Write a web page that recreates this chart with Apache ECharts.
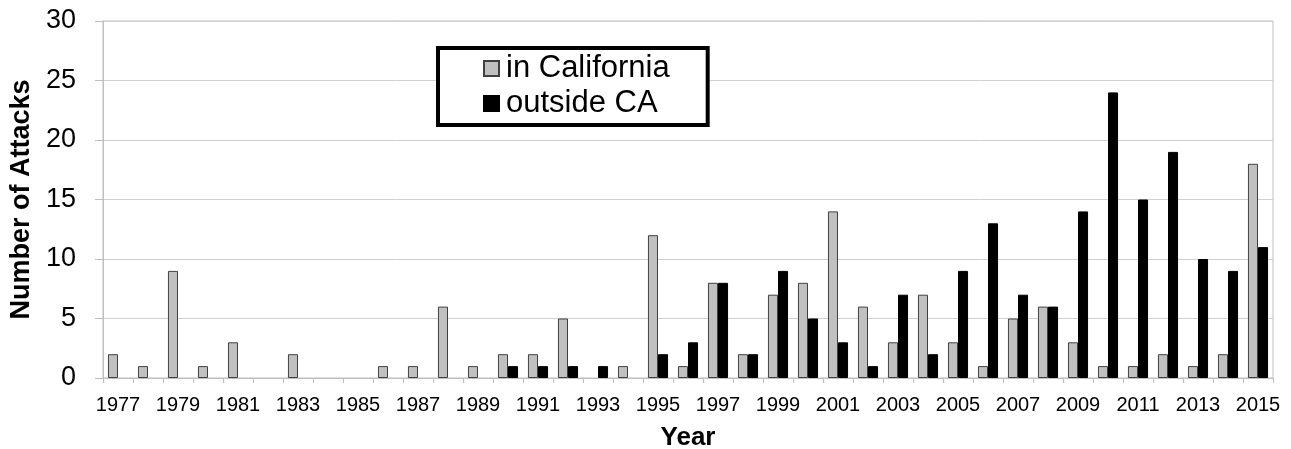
<!DOCTYPE html>
<html>
<head>
<meta charset="utf-8">
<script src="https://cdn.jsdelivr.net/npm/echarts@6/dist/echarts.min.js"></script>
<style>
  html, body { margin: 0; padding: 0; background: #fff; }
  #chart { width: 1291px; height: 449px; }
</style>
</head>
<body>
<div id="chart"></div>
<script>
// years on the x axis
var years = [];
for (var y = 1977; y <= 2015; y++) years.push(String(y));

// attacks per year
var inCalifornia = [2, 1, 9, 1, 3, 0, 2, 0, 0, 1, 1, 6, 1, 2, 2, 5, 0, 1, 12, 1, 8, 2, 7, 8, 14, 6, 3, 7, 3, 1, 5, 6, 3, 1, 1, 2, 1, 2, 18];
var outsideCA    = [0, 0, 0, 0, 0, 0, 0, 0, 0, 0, 0, 0, 0, 1, 1, 1, 1, 0, 2, 3, 8, 2, 9, 5, 3, 1, 7, 2, 9, 13, 7, 6, 14, 24, 15, 19, 10, 9, 11];

var font = 'Liberation Sans, Arial, sans-serif';

// zero years get no outline, like the original (no mark at all)
function bars(arr) {
  return arr.map(function (v) {
    return v === 0 ? { value: 0, itemStyle: { borderWidth: 0 } } : v;
  });
}

var chart = echarts.init(document.getElementById('chart'));
var option = {
  animation: false,
  backgroundColor: '#fff',
  textStyle: { fontFamily: font, color: '#000' },
  grid: {
    left: 103, right: 18, top: 21, bottom: 71,
    outerBoundsMode: 'none',
    containLabel: false,
    show: true, borderColor: '#bfbfbf', borderWidth: 1
  },
  legend: {
    orient: 'vertical',
    left: 438, top: 48,
    padding: [5, 38, 6, 45],
    itemGap: 4,
    itemWidth: 15, itemHeight: 15,
    borderColor: '#000', borderWidth: 4,
    backgroundColor: '#fff',
    textStyle: { fontFamily: font, fontSize: 31, color: '#000', padding: [0, 0, 0, 2] },
    data: [
      { name: 'in California', icon: 'rect' },
      { name: 'outside CA', icon: 'rect' }
    ]
  },
  xAxis: {
    type: 'category',
    data: years,
    name: 'Year',
    nameLocation: 'middle',
    nameGap: 47,
    nameTextStyle: { fontFamily: font, fontSize: 26, fontWeight: 'bold', color: '#000' },
    axisLine: { lineStyle: { color: '#bfbfbf', width: 1 } },
    axisTick: { show: true, interval: 0, length: 5, lineStyle: { color: '#bfbfbf' } },
    axisLabel: { interval: 1, fontSize: 20, color: '#000', margin: 17, fontFamily: font }
  },
  yAxis: {
    type: 'value',
    min: 0, max: 30, interval: 5,
    name: 'Number of Attacks',
    nameLocation: 'middle',
    nameGap: 68,
    nameTextStyle: { fontFamily: font, fontSize: 27, fontWeight: 'bold', color: '#000' },
    axisLine: { show: true, lineStyle: { color: '#bfbfbf', width: 1 } },
    axisTick: { show: true, length: 8, lineStyle: { color: '#bfbfbf' } },
    axisLabel: { fontSize: 27, color: '#000', margin: 27, fontFamily: font },
    splitLine: { lineStyle: { color: '#d0d0d0', width: 1 } }
  },
  series: [
    {
      name: 'in California',
      type: 'bar',
      data: bars(inCalifornia),
      barGap: '0%',
      barCategoryGap: '33%',
      itemStyle: { color: '#c0c0c0', borderColor: '#404040', borderWidth: 1 }
    },
    {
      name: 'outside CA',
      type: 'bar',
      data: bars(outsideCA),
      itemStyle: { color: '#000', borderColor: '#000', borderWidth: 1 }
    }
  ]
};
chart.setOption(option);
</script>
</body>
</html>
